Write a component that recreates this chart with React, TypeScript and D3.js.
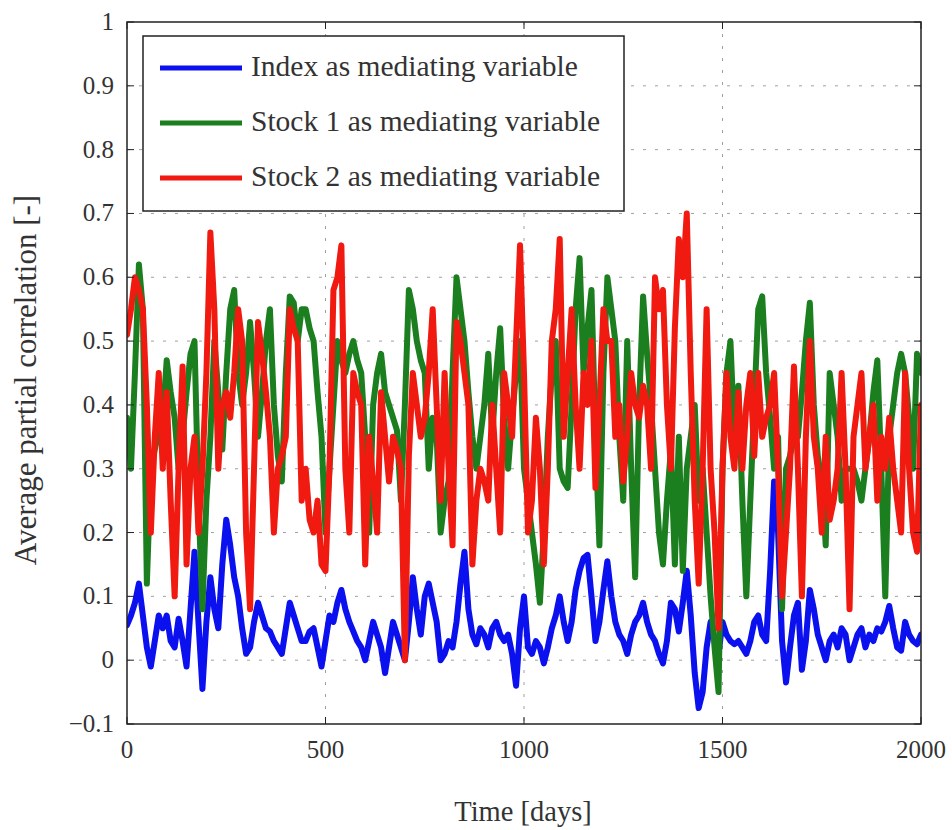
import * as d3 from 'd3'
import { useEffect, useRef } from 'react'

// values every 10 days, day 0 .. 2000
const indexSeries = [
  0.055, 0.07, 0.09, 0.12, 0.07, 0.02, -0.01, 0.03, 0.07, 0.05,
  0.07, 0.03, 0.02, 0.065, 0.03, -0.01, 0.08, 0.17, 0.06, -0.045,
  0.06, 0.13, 0.08, 0.05, 0.15, 0.22, 0.18, 0.13, 0.1, 0.05,
  0.01, 0.02, 0.06, 0.09, 0.07, 0.05, 0.045, 0.03, 0.02, 0.01,
  0.05, 0.09, 0.07, 0.05, 0.03, 0.03, 0.045, 0.05, 0.02, -0.01,
  0.03, 0.07, 0.06, 0.09, 0.11, 0.08, 0.06, 0.045, 0.03, 0.02,
  0.0, 0.03, 0.06, 0.04, 0.02, -0.02, 0.02, 0.06, 0.04, 0.02,
  0.0, 0.06, 0.13, 0.08, 0.04, 0.1, 0.12, 0.09, 0.06, 0.0,
  0.01, 0.03, 0.02, 0.06, 0.12, 0.17, 0.08, 0.04, 0.025, 0.05,
  0.04, 0.02, 0.05, 0.06, 0.04, 0.03, 0.04, 0.01, -0.04, 0.05,
  0.1, 0.02, 0.01, 0.03, 0.02, -0.005, 0.02, 0.05, 0.07, 0.1,
  0.06, 0.03, 0.06, 0.11, 0.14, 0.16, 0.165, 0.1, 0.03, 0.06,
  0.11, 0.155, 0.1, 0.06, 0.04, 0.03, 0.01, 0.04, 0.06, 0.07,
  0.09, 0.06, 0.04, 0.03, 0.01, -0.005, 0.03, 0.09, 0.08, 0.045,
  0.09, 0.14, 0.07, -0.02, -0.075, -0.05, 0.02, 0.06, 0.03, 0.01,
  0.06, 0.04, 0.03, 0.025, 0.03, 0.02, 0.01, 0.03, 0.06, 0.07,
  0.04, 0.03, 0.14, 0.28, 0.2, 0.03, -0.035, 0.02, 0.07, 0.09,
  -0.015, 0.03, 0.11, 0.08, 0.04, 0.02, 0.0, 0.03, 0.04, 0.02,
  0.05, 0.04, 0.0, 0.02, 0.04, 0.05, 0.02, 0.04, 0.03, 0.05,
  0.045, 0.06, 0.085, 0.05, 0.02, 0.015, 0.06, 0.04, 0.03, 0.025,
  0.04,
]

const stock1Series = [
  0.38, 0.3, 0.45, 0.62, 0.55, 0.12, 0.3, 0.33, 0.36, 0.38,
  0.47, 0.42, 0.38, 0.3, 0.35, 0.42, 0.48, 0.5, 0.25, 0.08,
  0.25, 0.35, 0.5, 0.42, 0.33, 0.45, 0.55, 0.58, 0.45, 0.4,
  0.45, 0.53, 0.45, 0.35, 0.42, 0.5, 0.55, 0.4, 0.32, 0.28,
  0.45, 0.57, 0.56, 0.5, 0.55, 0.55, 0.52, 0.5, 0.42, 0.35,
  0.2, 0.3, 0.4, 0.5, 0.47, 0.45, 0.48, 0.5, 0.47, 0.45,
  0.35, 0.2, 0.4, 0.45, 0.48, 0.42, 0.4, 0.38, 0.36, 0.25,
  0.4, 0.58, 0.55, 0.5, 0.47, 0.45, 0.3, 0.38, 0.35, 0.2,
  0.25, 0.28, 0.45, 0.6, 0.55, 0.5, 0.42, 0.35, 0.3, 0.35,
  0.4, 0.48, 0.35, 0.45, 0.52, 0.38, 0.3, 0.38, 0.45, 0.5,
  0.3, 0.25, 0.2, 0.15, 0.09, 0.2, 0.35, 0.45, 0.5, 0.3,
  0.28, 0.27, 0.4, 0.55, 0.63, 0.45, 0.52, 0.58, 0.35, 0.18,
  0.45, 0.6, 0.55, 0.5, 0.35, 0.25, 0.5, 0.3, 0.13, 0.4,
  0.57, 0.48, 0.4, 0.3, 0.2, 0.15, 0.25, 0.33, 0.15, 0.35,
  0.14, 0.3, 0.35, 0.4, 0.25, 0.3, 0.2, 0.1, 0.02, -0.05,
  0.3, 0.45, 0.5, 0.35, 0.43, 0.25, 0.1, 0.25, 0.4, 0.55,
  0.57, 0.45, 0.38, 0.3, 0.35, 0.08, 0.3, 0.32, 0.35, 0.35,
  0.42, 0.5, 0.56, 0.4, 0.32, 0.28, 0.18, 0.45, 0.4, 0.35,
  0.25, 0.3, 0.3, 0.3, 0.28, 0.25, 0.3, 0.35, 0.42, 0.47,
  0.3, 0.1, 0.35, 0.4, 0.45, 0.48, 0.45, 0.38, 0.3, 0.48,
  0.45,
]

const stock2Series = [
  0.51, 0.55, 0.6, 0.58, 0.55, 0.4, 0.2, 0.35, 0.45, 0.3,
  0.42, 0.25, 0.1, 0.3, 0.46, 0.15, 0.3, 0.35, 0.2, 0.3,
  0.45, 0.67, 0.55, 0.3, 0.4, 0.42, 0.38, 0.45, 0.55, 0.5,
  0.2, 0.08, 0.3, 0.53, 0.48, 0.42, 0.35, 0.2, 0.3, 0.32,
  0.35, 0.55, 0.52, 0.5, 0.25, 0.3, 0.22, 0.2, 0.25, 0.15,
  0.14, 0.3, 0.58, 0.6, 0.65, 0.3, 0.2, 0.45, 0.42, 0.4,
  0.15, 0.35, 0.28, 0.2, 0.42, 0.35, 0.28, 0.35, 0.33, 0.3,
  0.0, 0.32, 0.45, 0.4, 0.35, 0.38, 0.45, 0.55, 0.4, 0.25,
  0.45, 0.3, 0.18, 0.53, 0.5, 0.45, 0.4, 0.15, 0.25, 0.3,
  0.28, 0.25, 0.4, 0.3, 0.2, 0.45, 0.4, 0.35, 0.5, 0.65,
  0.45, 0.2, 0.25, 0.38, 0.3, 0.15, 0.3, 0.5, 0.55, 0.66,
  0.35, 0.45, 0.55, 0.4, 0.3, 0.45, 0.4, 0.5, 0.27, 0.4,
  0.55, 0.5, 0.5, 0.35, 0.4, 0.28, 0.35, 0.45, 0.4, 0.38,
  0.43, 0.4, 0.3, 0.6, 0.55, 0.58, 0.4, 0.3, 0.52, 0.66,
  0.6, 0.7, 0.45, 0.25, 0.12, 0.3, 0.55, 0.3, 0.2, 0.05,
  0.3, 0.45, 0.35, 0.3, 0.42, 0.3, 0.4, 0.45, 0.32, 0.45,
  0.35, 0.38, 0.4, 0.45, 0.3, 0.1, 0.2, 0.3, 0.46, 0.3,
  0.1, 0.35, 0.5, 0.35, 0.3, 0.2, 0.35, 0.22, 0.25, 0.3,
  0.45, 0.3, 0.08, 0.35, 0.4, 0.45, 0.3, 0.35, 0.4, 0.25,
  0.35, 0.3, 0.38, 0.3, 0.25, 0.2, 0.45, 0.3, 0.2, 0.17,
  0.4,
]

const seriesNames = ['Index as mediating variable', 'Stock 1 as mediating variable', 'Stock 2 as mediating variable']
const seriesColors = ['#0a10ee', '#1c7f1f', '#f01a10']
const xTicks = [0, 500, 1000, 1500, 2000]
const yTicks = [-0.1, 0, 0.1, 0.2, 0.3, 0.4, 0.5, 0.6, 0.7, 0.8, 0.9, 1]
const xLabel = 'Time [days]'
const yLabel = 'Average partial correlation [-]'
const step = 10

export default function App() {
  const ref = useRef<SVGSVGElement | null>(null)

  useEffect(() => {
    const el = ref.current
    if (!el) return
    const svg = d3.select(el)
    svg.selectAll('*').remove()

    const W = 952
    const H = 830
    const m = { left: 127, right: 31, top: 22, bottom: 106 }
    const font = '"Liberation Serif", "Times New Roman", serif'
    const ink = '#333'

    const x = d3.scaleLinear().domain([0, 2000]).range([m.left, W - m.right])
    const y = d3.scaleLinear().domain([-0.1, 1]).range([H - m.bottom, m.top])

    svg.append('rect').attr('width', W).attr('height', H).attr('fill', '#fff')

    svg.append('defs').append('clipPath').attr('id', 'plot-clip')
      .append('rect')
      .attr('x', x(0)).attr('y', y(1))
      .attr('width', x(2000) - x(0)).attr('height', y(-0.1) - y(1))

    // dotted grid
    const grid = svg.append('g').attr('stroke', '#a0a0a0').attr('stroke-width', 1).attr('stroke-dasharray', '3,9')
    grid.selectAll('.gx').data(xTicks.slice(1, -1)).join('line')
      .attr('x1', (d) => x(d)).attr('x2', (d) => x(d))
      .attr('y1', y(1)).attr('y2', y(-0.1))
    grid.selectAll('.gy').data(yTicks.slice(1, -1)).join('line')
      .attr('x1', x(0)).attr('x2', x(2000))
      .attr('y1', (d) => y(d)).attr('y2', (d) => y(d))

    // series
    const allSeries = [indexSeries, stock1Series, stock2Series]
    const line = d3.line<number>()
      .x((_, i) => x(i * step))
      .y((d) => y(d))
    const lines = svg.append('g').attr('clip-path', 'url(#plot-clip)')
    allSeries.forEach((s, k) => {
      lines.append('path')
        .attr('d', line(s))
        .attr('fill', 'none')
        .attr('stroke', seriesColors[k])
        .attr('stroke-width', 6)
        .attr('stroke-linejoin', 'round')
        .attr('stroke-linecap', 'round')
    })

    // box + inward ticks
    const axes = svg.append('g').attr('stroke', '#222').attr('fill', 'none')
    axes.append('rect')
      .attr('x', x(0)).attr('y', y(1))
      .attr('width', x(2000) - x(0)).attr('height', y(-0.1) - y(1))
      .attr('stroke-width', 1.5)
    const tl = 7
    xTicks.forEach((d) => {
      axes.append('line').attr('x1', x(d)).attr('x2', x(d)).attr('y1', y(-0.1)).attr('y2', y(-0.1) - tl)
      axes.append('line').attr('x1', x(d)).attr('x2', x(d)).attr('y1', y(1)).attr('y2', y(1) + tl)
    })
    yTicks.forEach((d) => {
      axes.append('line').attr('x1', x(0)).attr('x2', x(0) + tl).attr('y1', y(d)).attr('y2', y(d))
      axes.append('line').attr('x1', x(2000)).attr('x2', x(2000) - tl).attr('y1', y(d)).attr('y2', y(d))
    })

    const fmt = (v: number) => (v < 0 ? '\u22120.1' : d3.format('~g')(v))
    svg.append('g').selectAll('text').data(yTicks).join('text')
      .attr('x', x(0) - 13).attr('y', (d) => y(d) + 8)
      .attr('text-anchor', 'end')
      .attr('font-family', font).attr('font-size', 25).attr('fill', ink)
      .text((d) => fmt(d))
    svg.append('g').selectAll('text').data(xTicks).join('text')
      .attr('x', (d) => x(d)).attr('y', y(-0.1) + 34)
      .attr('text-anchor', 'middle')
      .attr('font-family', font).attr('font-size', 25).attr('fill', ink)
      .text((d) => String(d))

    svg.append('text')
      .attr('x', (x(0) + x(2000)) / 2 - 1).attr('y', 821)
      .attr('text-anchor', 'middle')
      .attr('font-family', font).attr('font-size', 28.5).attr('fill', ink)
      .text(xLabel)
    svg.append('text')
      .attr('transform', 'translate(36,380) rotate(-90)')
      .attr('text-anchor', 'middle')
      .attr('font-family', font).attr('font-size', 31).attr('fill', ink)
      .text(yLabel)

    // legend
    const lg = svg.append('g')
    lg.append('rect')
      .attr('x', 143).attr('y', 36).attr('width', 481).attr('height', 175)
      .attr('fill', '#fff').attr('stroke', '#222').attr('stroke-width', 1.5)
    seriesNames.forEach((name, k) => {
      const ly = 68 + k * 55
      lg.append('line')
        .attr('x1', 160).attr('x2', 242).attr('y1', ly).attr('y2', ly)
        .attr('stroke', seriesColors[k]).attr('stroke-width', 5)
      lg.append('text')
        .attr('x', 251).attr('y', ly + 8)
        .attr('font-family', font).attr('font-size', 29.5).attr('fill', ink)
        .text(name)
    })
  }, [])

  return (
    <svg
      ref={ref}
      width={952}
      height={830}
      style={{ position: 'absolute', left: 0, top: 0, display: 'block' }}
    />
  )
}
